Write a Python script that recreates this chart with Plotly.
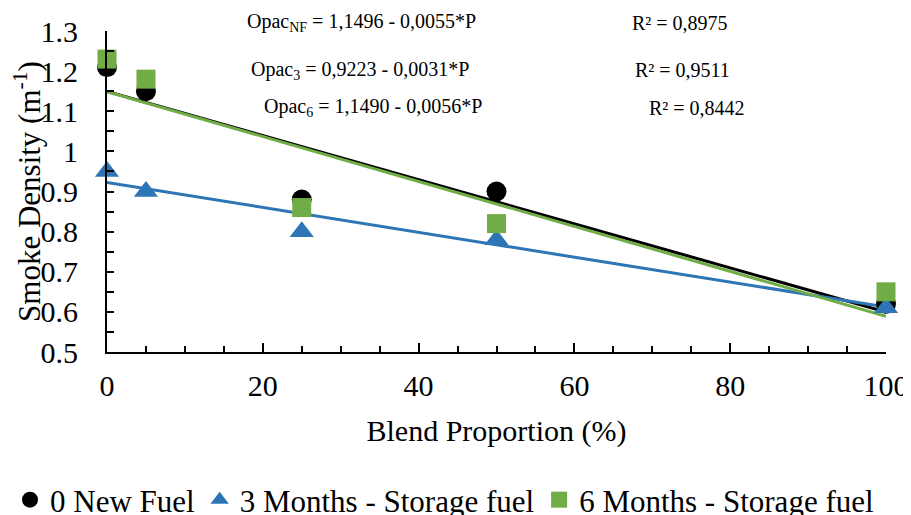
import plotly.graph_objects as go

# ---- data ----
blend = [0, 5, 25, 50, 100]
new_fuel = [1.21, 1.15, 0.88, 0.90, 0.62]
months3 = [0.95, 0.90, 0.80, 0.78, 0.61]
months6 = [1.23, 1.18, 0.86, 0.82, 0.65]

series_names = ["0 New Fuel", "3 Months - Storage fuel", "6 Months - Storage fuel"]
intercepts = [1.1496, 0.9223, 1.1490]
slopes = [-0.0055, -0.0031, -0.0056]
r2_values = ["0,8975", "0,9511", "0,8442"]
eq_labels = ["Opac<sub>NF</sub> = 1,1496 - 0,0055*P",
             "Opac<sub>3</sub> = 0,9223 - 0,0031*P",
             "Opac<sub>6</sub> = 1,1490 - 0,0056*P"]
y_tickvals = [0.5, 0.6, 0.7, 0.8, 0.9, 1.0, 1.1, 1.2, 1.3]
y_ticktext = ["0.5", "0.6", "0.7", "0.8", "0.9", "1", "1.1", "1.2", "1.3"]

colors = ["#000000", "#2E75B6", "#70AD47"]
symbols = ["circle", "triangle-up", "square"]
sizes = [20, 21, 19]
FONT = "Liberation Serif"

# page has an 8px body margin -> figure is drawn 8px right/down
OFF = 8
W, H = 911 - OFF, 515 - OFF
L, R, T, B = 107 - OFF, 886 - OFF, 31 - OFF, 352 - OFF  # plot area in fig px


def px_to_paper(px, py):
    return (px - OFF - L) / (R - L), (B - (py - OFF)) / (B - T)


fig = go.Figure()

# trendlines (drawn first)
trend_x = [0, 100]
for b0, b1, c in zip(intercepts, slopes, colors):
    fig.add_trace(go.Scatter(
        x=trend_x, y=[b0 + b1 * x for x in trend_x], mode="lines",
        line=dict(color=c, width=3), showlegend=False, hoverinfo="skip",
        cliponaxis=False))

for name, ys, c, s, sz in zip(series_names, [new_fuel, months3, months6],
                              colors, symbols, sizes):
    fig.add_trace(go.Scatter(
        x=blend, y=ys, mode="markers", name=name,
        marker=dict(color=c, symbol=s, size=sz, line=dict(width=0)),
        cliponaxis=False))

# equation annotations (page pixel anchors: left x, centre y)
eq_pos = [(245, 22), (249, 70), (262, 107)]
r2_pos = [(630, 23), (633, 70), (647, 108)]
for lab, (px, py) in zip(eq_labels, eq_pos):
    ax_, ay_ = px_to_paper(px, py)
    fig.add_annotation(text=lab, xref="paper", yref="paper", x=ax_, y=ay_,
                       xanchor="left", yanchor="middle", showarrow=False,
                       font=dict(family=FONT, size=20, color="black"))
for r2, (px, py) in zip(r2_values, r2_pos):
    ax_, ay_ = px_to_paper(px, py)
    fig.add_annotation(text="R² = " + r2, xref="paper", yref="paper",
                       x=ax_, y=ay_,
                       xanchor="left", yanchor="middle", showarrow=False,
                       font=dict(family=FONT, size=20, color="black"))

leg_x, leg_y = px_to_paper(10, 500)

fig.update_layout(
    width=W, height=H,
    margin=dict(l=L, r=W - R, t=T, b=H - B, autoexpand=False),
    paper_bgcolor="white", plot_bgcolor="white",
    font=dict(family=FONT, size=30, color="black"),
    showlegend=True,
    legend=dict(orientation="h", xref="paper", yref="paper",
                x=leg_x, y=leg_y, xanchor="left", yanchor="middle",
                font=dict(family=FONT, size=31, color="black"),
                itemsizing="trace", tracegroupgap=0, itemwidth=30),
    xaxis=dict(
        range=[0, 100], tickmode="linear", tick0=0, dtick=20,
        ticks="inside", ticklen=9, tickwidth=2, tickcolor="black",
        showline=True, linecolor="black", linewidth=2,
        showgrid=False, zeroline=False, automargin=False,
        minor=dict(dtick=5, ticks="inside", ticklen=6, tickwidth=1.5,
                   tickcolor="black", showgrid=False),
        ticklabelstandoff=6,
        tickfont=dict(family=FONT, size=30),
        title=dict(text="Blend Proportion (%)", standoff=19,
                   font=dict(family=FONT, size=30)),
    ),
    yaxis=dict(
        range=[0.5, 1.3], tickmode="array",
        tickvals=y_tickvals, ticktext=y_ticktext,
        ticks="inside", ticklen=7, tickwidth=2, tickcolor="black",
        showline=True, linecolor="black", linewidth=2,
        showgrid=False, zeroline=False, automargin=False,
        minor=dict(dtick=0.05, tick0=0.5, ticks="inside", ticklen=7,
                   tickwidth=1.5, tickcolor="black", showgrid=False),
        ticklabelstandoff=21,
        tickfont=dict(family=FONT, size=30),
        title=dict(text="Smoke Density (m<sup>-1</sup>)", standoff=9,
                   font=dict(family=FONT, size=31)),
    ),
)

fig.write_html("out.html")
